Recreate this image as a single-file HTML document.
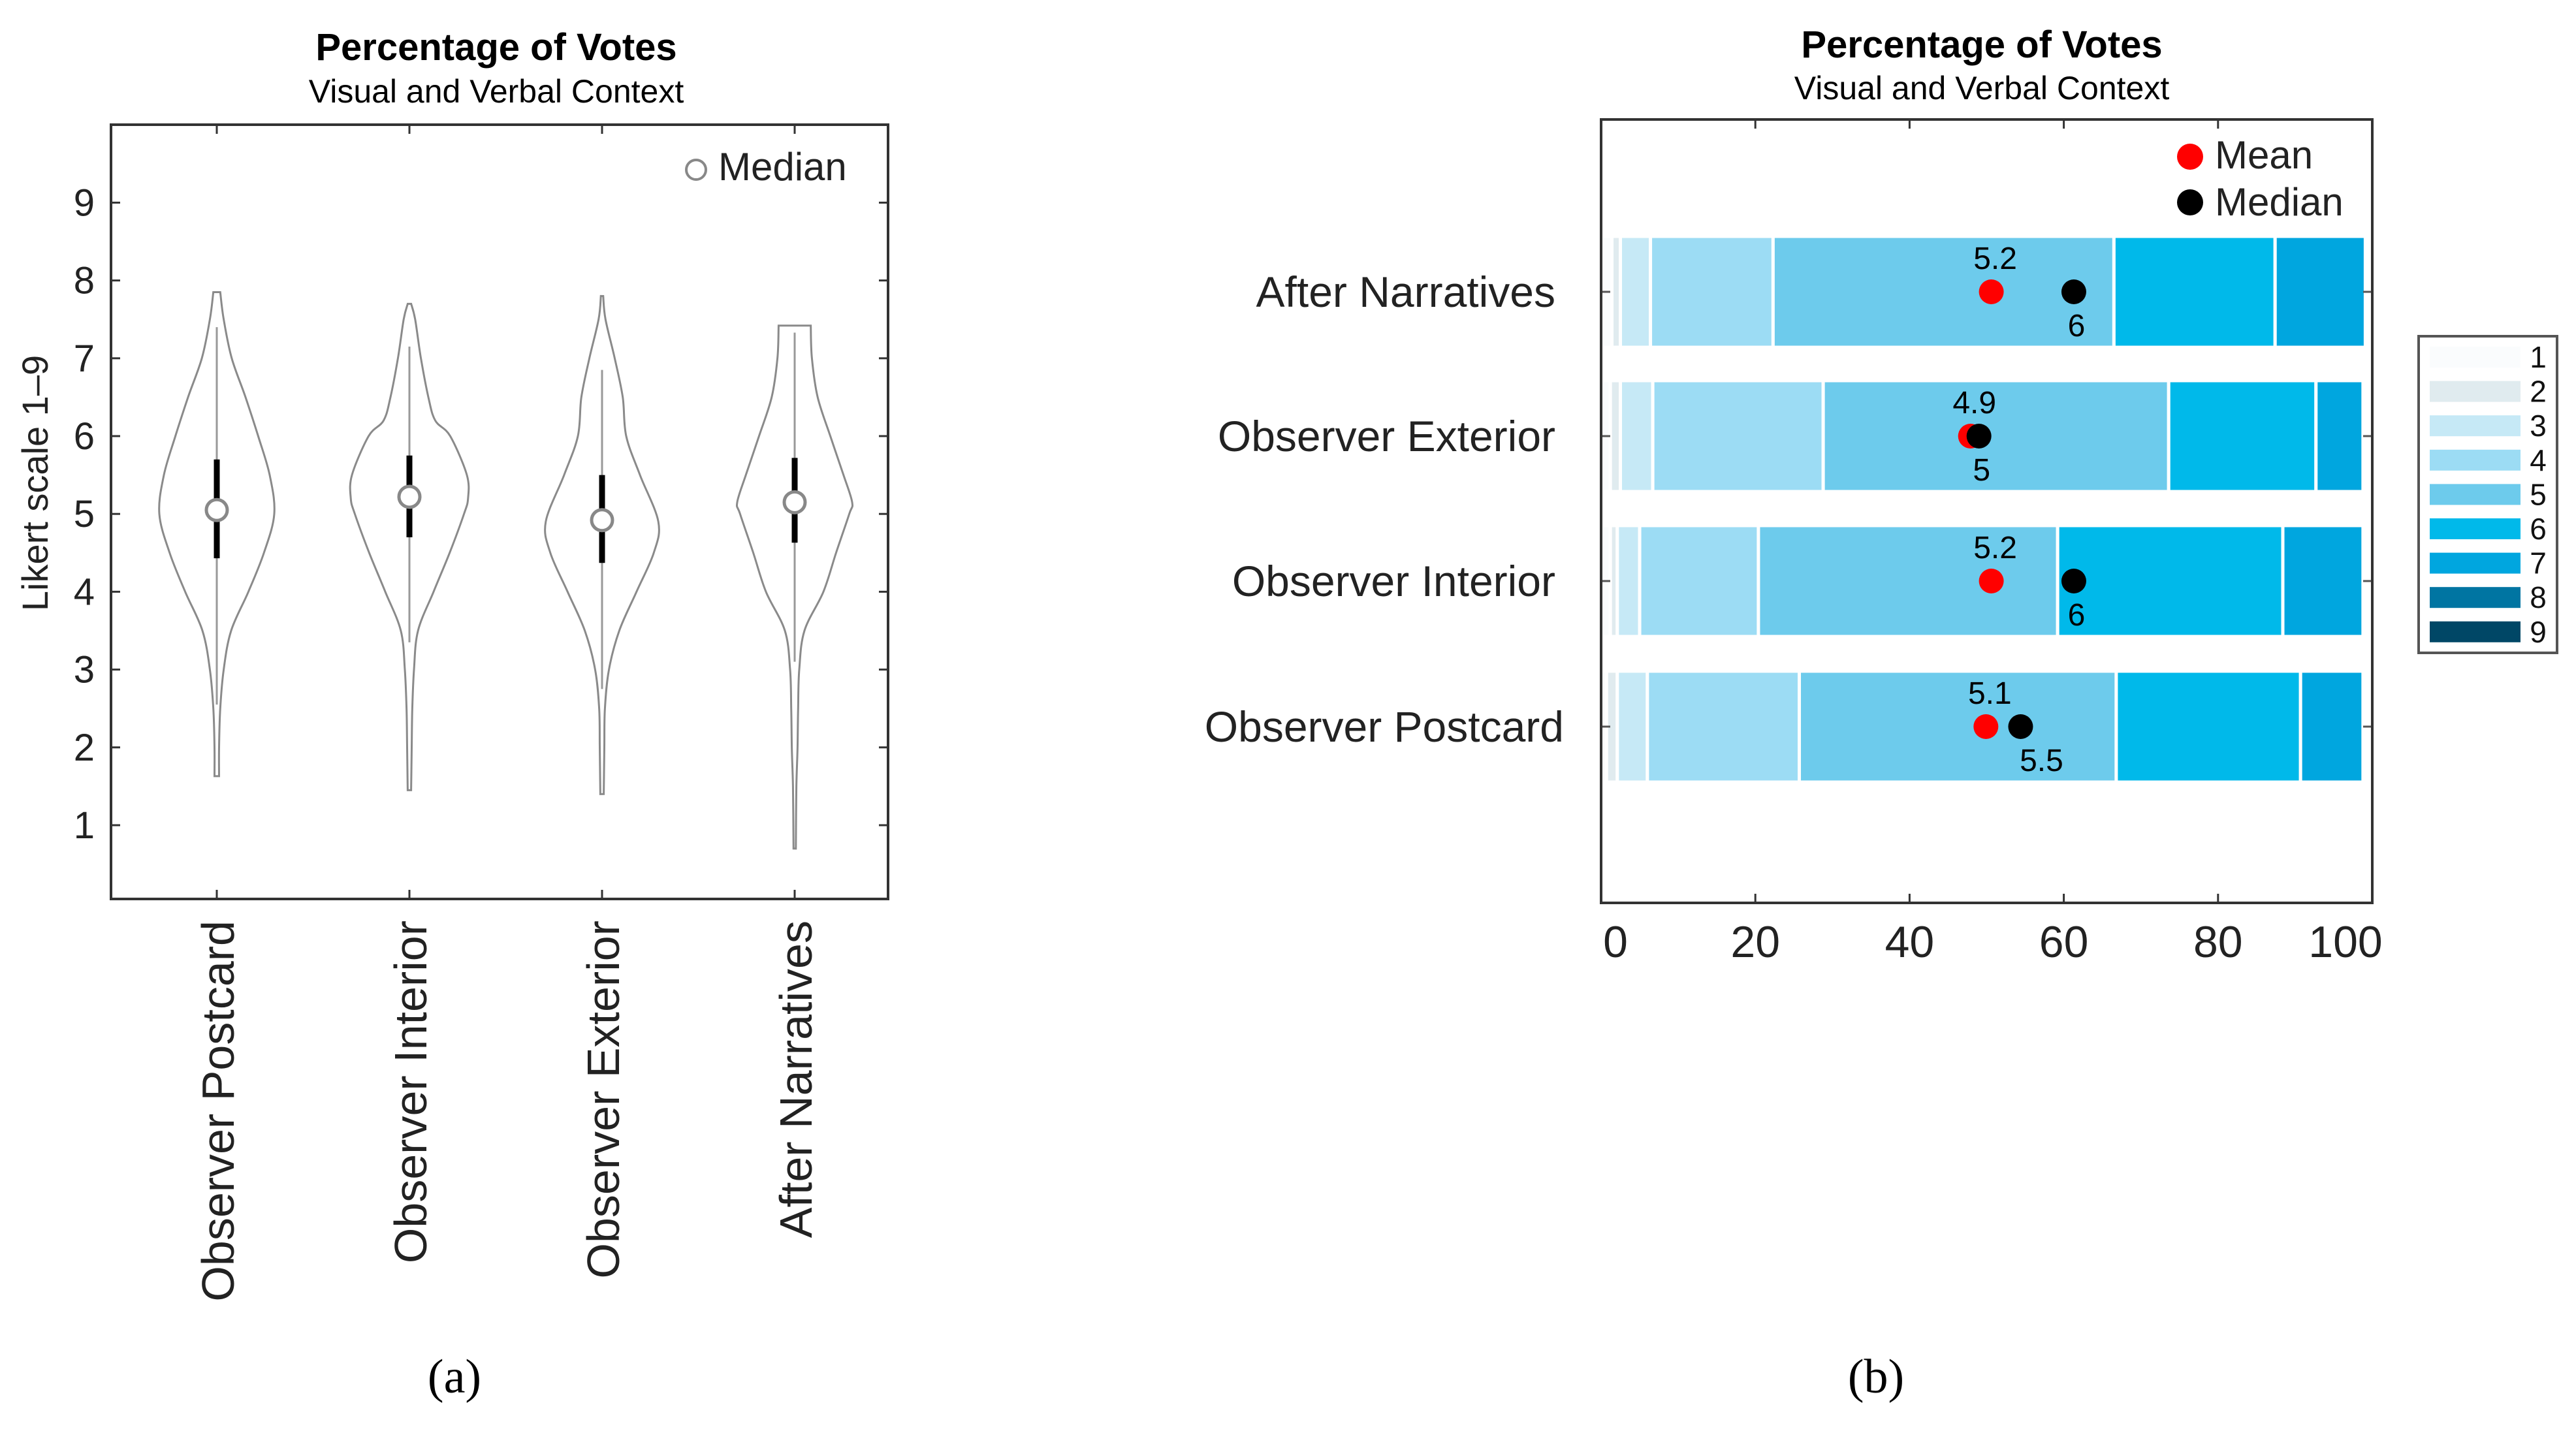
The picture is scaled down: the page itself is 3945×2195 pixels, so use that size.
<!DOCTYPE html>
<html><head><meta charset="utf-8"><style>
html,body{margin:0;padding:0;background:#fff}
svg{display:block}
text{font-family:"Liberation Sans",sans-serif}
</style></head><body>
<svg id="root" width="3945" height="2195" viewBox="0 0 3945 2195" xmlns="http://www.w3.org/2000/svg">
<g id="left"></g>
<g id="right"></g>
<text x="696" y="2133" text-anchor="middle" font-size="74" style="font-family:'Liberation Serif',serif">(a)</text>
<text x="2873" y="2133" text-anchor="middle" font-size="74" style="font-family:'Liberation Serif',serif">(b)</text>
</svg>
<script>
// ---------- Violin data ----------
const violinCats = ["Observer Postcard","Observer Interior","Observer Exterior","After Narratives"];
const yTicks = [1,2,3,4,5,6,7,8,9];
const v1Y = [7.85,7.5,7,6.5,6,5.5,5,4.5,4,3.5,3,2.5,2,1.63];
const v1W = [0.06,0.12,0.26,0.5,0.72,0.92,1.0,0.82,0.55,0.25,0.12,0.06,0.04,0.04];
const v2Y = [7.7,7.5,7,6.5,6.2,6,5.5,5.2,5,4.5,4,3.5,3,2.5,2,1.45];
const v2W = [0.03,0.1,0.2,0.33,0.45,0.71,1.0,1.02,0.95,0.7,0.42,0.15,0.08,0.05,0.04,0.03];
const v3Y = [7.8,7.5,7,6.5,6,5.5,4.9,4.5,4,3.5,3,2.5,2,1.4];
const v3W = [0.02,0.06,0.22,0.36,0.42,0.66,0.98,0.9,0.6,0.3,0.12,0.05,0.04,0.03];
const v4Y = [7.42,7,6.5,6,5.5,5.15,5,4.5,4,3.5,3,2.5,2,1.5,0.7];
const v4W = [0.28,0.3,0.4,0.62,0.85,1.0,0.95,0.72,0.5,0.17,0.08,0.06,0.05,0.03,0.02];
const medians = [5.05,5.22,4.92,5.15];
const q1s = [4.43,4.7,4.37,4.63];
const q3s = [5.7,5.75,5.5,5.72];
const whiskLo = [2.55,3.35,2.75,3.1];
const whiskHi = [7.4,7.15,6.85,7.33];

// ---------- Stacked bar data ----------
const barCats = ["After Narratives","Observer Exterior","Observer Interior","Observer Postcard"];
const pAN   = [1.4,1.1,3.9,15.9,44.2,20.9,11.7,0,0];
const pExt  = [1.2,1.3,4.2,22.1,44.8,19.1,6.1,0,0];
const pInt  = [1.2,0.9,2.9,15.4,38.8,29.2,10.4,0,0];
const pPost = [0.7,1.4,3.9,19.7,41.1,23.9,8.1,0,0];
const meanVals = [5.2,4.9,5.2,5.1];
const medianVals = [6,5,6,5.5];
const meanPos = [50.6,47.9,50.6,49.9];
const medianPos = [61.3,49.0,61.3,54.4];
const xTicks = [0,20,40,60,80,100];
const levelLabels = ["1","2","3","4","5","6","7","8","9"];
const levelColors = ["#fafcfd","#e0ebef","#c6e9f6","#9cdcf4","#6dcbec","#00b9ea","#00a6df","#0075a2","#004766"];

const NS="http://www.w3.org/2000/svg";
function mk(parent,tag,attrs,txt){const e=document.createElementNS(NS,tag);for(const k in attrs)e.setAttribute(k,attrs[k]);if(txt!==undefined)e.textContent=txt;parent.appendChild(e);return e;}

// ===== LEFT =====
(function(){
const g=document.getElementById('left');
const L=170,R=1360,T=191,B=1377;
const yS=v=>1264-(v-1)*119.2;
const xS=i=>332+i*295;
const HW=88;
let t=mk(g,'text',{x:760,y:92,'text-anchor':'middle','font-size':58,'font-weight':'bold'},'Percentage of Votes');


t=mk(g,'text',{x:760,y:157,'text-anchor':'middle','font-size':50},'Visual and Verbal Context');


let f=mk(g,'rect',{x:L,y:T,width:R-L,height:B-T,fill:'none',stroke:'#333','stroke-width':4});


yTicks.forEach(v=>{
  const y=yS(v);
  mk(g,'line',{x1:L,x2:L+14,y1:y,y2:y,stroke:'#333','stroke-width':3});
  mk(g,'line',{x1:R-14,x2:R,y1:y,y2:y,stroke:'#333','stroke-width':3});
  const tl=mk(g,'text',{x:145,y:y+20,'text-anchor':'end','font-size':58,fill:'#222'},String(v));
  
  
});
t=mk(g,'text',{x:0,y:0,'text-anchor':'middle','font-size':56,fill:'#222',transform:'translate(73,740) rotate(-90)'},'Likert scale 1–9');


const Ys=[v1Y,v2Y,v3Y,v4Y],Ws=[v1W,v2W,v3W,v4W];
function spline(pts){let d='M'+pts[0][0]+','+pts[0][1];for(let i=0;i<pts.length-1;i++){const p0=pts[Math.max(0,i-1)],p1=pts[i],p2=pts[i+1],p3=pts[Math.min(pts.length-1,i+2)];const c1=[p1[0]+(p2[0]-p0[0])/6,p1[1]+(p2[1]-p0[1])/6],c2=[p2[0]-(p3[0]-p1[0])/6,p2[1]-(p3[1]-p1[1])/6];d+=' C'+c1[0].toFixed(1)+','+c1[1].toFixed(1)+' '+c2[0].toFixed(1)+','+c2[1].toFixed(1)+' '+p2[0].toFixed(1)+','+p2[1].toFixed(1);}return d;}
violinCats.forEach((c,i)=>{
  const cx=xS(i);
  mk(g,'line',{x1:cx,x2:cx,y1:T,y2:T+14,stroke:'#333','stroke-width':3});
  mk(g,'line',{x1:cx,x2:cx,y1:B-14,y2:B,stroke:'#333','stroke-width':3});
  const Y=Ys[i],W=Ws[i];
  const right=Y.map((y,k)=>[cx+W[k]*HW,yS(y)]);
  const left=Y.map((y,k)=>[cx-W[k]*HW,yS(y)]).reverse();
  let d=spline(right)+' L'+left[0][0]+','+left[0][1]+spline(left).replace(/^M[^C]*/,' ')+' Z';
  const p=mk(g,'path',{d:d,fill:'none',stroke:'#8a8a8a','stroke-width':3});
  
  
  const w=mk(g,'line',{x1:cx,x2:cx,y1:yS(whiskHi[i]),y2:yS(whiskLo[i]),stroke:'#999','stroke-width':3});
  
  
  const b=mk(g,'line',{x1:cx,x2:cx,y1:yS(q3s[i]),y2:yS(q1s[i]),stroke:'#000','stroke-width':9});
  
  
  const m=mk(g,'circle',{cx:cx,cy:yS(medians[i]),r:16,fill:'#fff',stroke:'#888','stroke-width':5});
  
  
  const lab=mk(g,'text',{x:0,y:0,'text-anchor':'end','font-size':70,fill:'#222',transform:'translate('+(cx+26)+',1410) rotate(-90)'},c);
  
  
});
const lc=mk(g,'circle',{cx:1066,cy:260,r:15,fill:'#fff',stroke:'#888','stroke-width':4});


t=mk(g,'text',{x:1100,y:276,'font-size':60,fill:'#222'},'Median');


})();

// ===== RIGHT =====
(function(){
const g=document.getElementById('right');
const L=2452,R=3633,T=183,B=1383;
const xS=p=>L+p*(R-L)/100;
const rowC=[447,668,890,1113], BH=170;
let t=mk(g,'text',{x:3035,y:88,'text-anchor':'middle','font-size':58,'font-weight':'bold'},'Percentage of Votes');


t=mk(g,'text',{x:3035,y:152,'text-anchor':'middle','font-size':50},'Visual and Verbal Context');


const rows=[pAN,pExt,pInt,pPost];
rows.forEach((vals,r)=>{
  let acc=0;const cy=rowC[r];
  vals.forEach((v,k)=>{
    if(v<=0){return;}
    const s=mk(g,'rect',{x:xS(acc),y:cy-BH/2,width:xS(acc+v)-xS(acc),height:BH,fill:levelColors[k],stroke:'#fff','stroke-width':5});
    
    
    acc+=v;
  });
  const lab=mk(g,'text',{x:r===3?2395:2382,y:cy+23,'text-anchor':'end','font-size':66,fill:'#222'},barCats[r]);
  
  
  mk(g,'line',{x1:L,x2:L+14,y1:cy,y2:cy,stroke:'#555','stroke-width':3});
  mk(g,'line',{x1:R-14,x2:R,y1:cy,y2:cy,stroke:'#555','stroke-width':3});
  const mx=xS(meanPos[r]),dx=xS(medianPos[r]);
  const md=mk(g,'circle',{cx:mx,cy:cy,r:19,fill:'#f00'});
  
  
  const dd=mk(g,'circle',{cx:dx,cy:cy,r:19,fill:'#000'});
  
  
  const ml=mk(g,'text',{x:mx+6,y:cy-35,'text-anchor':'middle','font-size':48,fill:'#000'},String(meanVals[r]));
  
  
  const shift=(Math.abs(medianPos[r]-meanPos[r])<8&&Math.abs(medianPos[r]-meanPos[r])>2)?32:4;
  const dl=mk(g,'text',{x:dx+shift,y:cy+68,'text-anchor':'middle','font-size':48,fill:'#000'},String(medianVals[r]));
  
  
});
const f=mk(g,'rect',{x:L,y:T,width:R-L,height:B-T,fill:'none',stroke:'#333','stroke-width':4});


xTicks.forEach(v=>{
  const x=xS(v);
  mk(g,'line',{x1:x,x2:x,y1:T,y2:T+14,stroke:'#333','stroke-width':3});
  mk(g,'line',{x1:x,x2:x,y1:B-14,y2:B,stroke:'#333','stroke-width':3});
  const lx=Math.min(Math.max(x,L+22),R-41);
  const tl=mk(g,'text',{x:lx,y:1466,'text-anchor':'middle','font-size':68,fill:'#222'},String(v));
  
  
});
let c=mk(g,'circle',{cx:3354,cy:240,r:20,fill:'#f00'});


t=mk(g,'text',{x:3392,y:258,'font-size':60,fill:'#222'},'Mean');


c=mk(g,'circle',{cx:3354,cy:310,r:20,fill:'#000'});


t=mk(g,'text',{x:3392,y:330,'font-size':60,fill:'#222'},'Median');


const lb=mk(g,'rect',{x:3704,y:515,width:212,height:485,fill:'#fff',stroke:'#555','stroke-width':4});


levelLabels.forEach((l,k)=>{
  const cy=547+k*52.6;
  const s=mk(g,'rect',{x:3721,y:cy-16,width:139,height:32,fill:levelColors[k]});
  
  
  const tl=mk(g,'text',{x:3887,y:cy+16,'text-anchor':'middle','font-size':46,fill:'#111'},l);
  
  
});
})();
</script>
</body></html>
